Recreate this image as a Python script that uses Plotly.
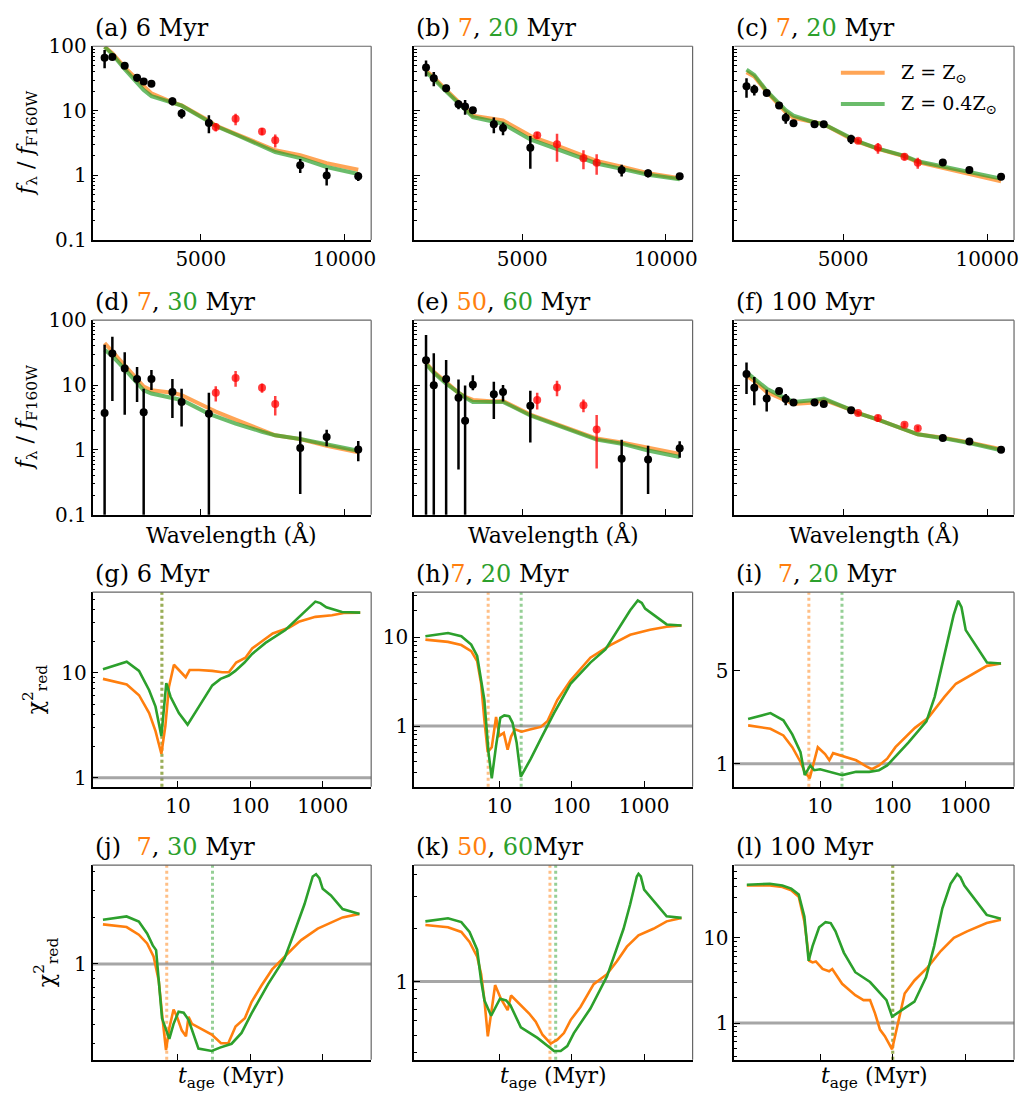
import plotly.graph_objects as go

FONT = "DejaVu Serif"
ORANGE = "#ff7f0e"
GREEN = "#2ca02c"
ORANGE_T = "rgba(255,127,14,0.7)"
GREEN_T = "rgba(44,160,44,0.7)"
RED = "rgba(255,0,0,0.75)"

# ---------------- SED data (wavelength in Angstrom) ----------------
WAVE = [1650, 1920, 2350, 2780, 3010, 3280, 4010, 4330, 5280,
        5520, 6210, 7130, 7590, 8460, 9380, 10480]
IS_RED = [False] * 9 + [True] * 4 + [False] * 3

obs_a = [66.6, 68, 50, 32.4, 28.5, 26.3, 14.1, 9.1, 6.5, 5.6, 7.5, 4.8, 3.5, 1.44, 1.0, 0.97]
err_a = [21, 7, 3, 4, 2.5, 2, 2, 1.5, 2, 0.8, 1.5, 0.6, 0.8, 0.35, 0.3, 0.15]
mod_o_a = [98, 78, 47, 31, 24, 18.6, 13.5, 12.2, 7.0, 5.9, 4.4, 3.0, 2.45, 2.05, 1.55, 1.22]
mod_g_a = [98, 75, 44, 28, 21, 16.9, 13, 12, 6.8, 5.8, 4.3, 2.85, 2.3, 1.85, 1.35, 1.05]

obs_b = [47, 32, 22.4, 12.6, 11.7, 10.2, 6.2, 5.4, 2.67, 4.2, 3.03, 1.84, 1.57, 1.21, 1.08, 0.97]
err_b = [13, 8, 3, 2, 3, 1, 1.7, 1.2, 1.4, 0.5, 1.4, 0.6, 0.55, 0.25, 0.15, 0.08]
mod_o_b = [42, 33, 21, 13.9, 11, 8.4, 7.5, 7.1, 4.1, 3.7, 2.9, 2.0, 1.68, 1.36, 1.08, 0.9]
mod_g_b = [39.5, 31, 20, 13.5, 10.5, 8.0, 6.8, 6.3, 3.6, 3.3, 2.57, 1.8, 1.53, 1.26, 1.02, 0.87]

obs_c = [24, 21.3, 18.8, 12.1, 7.8, 6.4, 6.2, 6.2, 3.66, 3.45, 2.67, 1.95, 1.57, 1.58, 1.21, 0.95]
err_c = [8, 4, 1.5, 1, 1.5, 0.6, 0.4, 0.4, 0.6, 0.3, 0.5, 0.25, 0.3, 0.1, 0.1, 0.06]
mod_o_c = [39.5, 34, 19.7, 12.3, 9.5, 7.8, 6.5, 6.2, 3.66, 3.3, 2.57, 1.97, 1.6, 1.3, 1.02, 0.81]
mod_g_c = [43.4, 36, 20.3, 12.8, 10.2, 8.4, 6.6, 6.2, 3.7, 3.35, 2.6, 2.0, 1.65, 1.36, 1.12, 0.89]

obs_d = [3.7, 30.7, 18, 12.4, 3.8, 12.4, 7.8, 5.5, 3.6, 7.6, 12.9, 9.1, 5.1, 1.07, 1.59, 1.02]
errp_d = [38, 25, 14, 6.6, 5, 4.6, 4.6, 3.3, 4, 2, 3.5, 1.5, 1.7, 0.85, 0.45, 0.35]
errm_d = [10, 25, 14.5, 6.9, 10, 4, 4.7, 3.2, 10, 2, 3.5, 1.5, 1.7, 0.86, 0.45, 0.35]
mod_o_d = [44.5, 33, 21, 12.4, 9.5, 8.3, 7.6, 7.0, 4.4, 3.9, 2.93, 2.07, 1.68, 1.47, 1.16, 0.92]
mod_g_d = [35, 28, 17.6, 10.5, 8.3, 7.4, 6.4, 5.9, 3.6, 3.3, 2.55, 1.91, 1.68, 1.47, 1.23, 0.97]

obs_e = [24.1, 9.9, 12.4, 6.4, 2.83, 10.1, 7.2, 7.8, 4.8, 5.9, 9.2, 4.9, 2.07, 0.73, 0.71, 1.06]
errp_e = [35, 21, 12, 5.8, 7, 4, 4, 2.2, 3.4, 1.7, 2.5, 1.1, 1.4, 0.7, 0.45, 0.3]
errm_e = [50, 20, 20, 5.9, 10, 1.8, 4.2, 2.2, 3.5, 1.7, 2.5, 1.1, 1.55, 2, 0.5, 0.3]
mod_o_e = [22, 16, 11.1, 7.6, 6.6, 5.9, 5.6, 5.7, 3.5, 3.2, 2.5, 1.78, 1.5, 1.3, 1.07, 0.87]
mod_g_e = [21, 15.5, 10.5, 7.4, 6.4, 5.5, 5.4, 5.5, 3.4, 3.1, 2.42, 1.7, 1.44, 1.25, 0.98, 0.78]

obs_f = [14.8, 9.1, 6.2, 8.1, 6.1, 5.4, 5.4, 5.1, 4.1, 3.7, 3.1, 2.44, 2.15, 1.53, 1.35, 1.01]
err_f = [7.5, 4.2, 2.3, 0.7, 1.2, 0.5, 0.4, 0.3, 0.5, 0.3, 0.4, 0.2, 0.2, 0.1, 0.1, 0.05]
mod_o_f = [14, 11.5, 7.8, 6.5, 5.8, 5.1, 5.4, 5.9, 4.15, 3.7, 2.93, 2.07, 1.74, 1.55, 1.31, 1.03]
mod_g_f = [15.7, 12.4, 8.8, 7.0, 6.2, 5.5, 5.9, 6.2, 4.15, 3.7, 2.93, 2.07, 1.74, 1.52, 1.28, 0.99]

# ---------------- reduced chi^2 vs age (Myr) ----------------
age_g_g = [0.92, 1.96, 2.9, 4.0, 4.9, 5.9, 6.9, 7.9, 10.3, 13.6, 19.5, 29.8, 38.8, 50.5, 62, 83, 106, 162, 305, 467, 792, 929, 1124, 1849, 3300]
chi_g_g = [10.8, 12.7, 10.4, 6.8, 4.75, 2.5, 7.95, 5.9, 4.12, 3.2, 4.75, 7.57, 8.73, 9.4, 10.4, 12.5, 15.1, 19.2, 25.5, 34, 47.5, 46, 42, 37.8, 37.3]
age_g_o = [0.92, 1.96, 2.9, 4.0, 4.9, 5.9, 6.7, 7.5, 8.8, 12.8, 14.5, 19.5, 29.8, 40.8, 50.5, 63.8, 85.7, 106, 145, 204, 340, 467, 792, 1345, 1950, 3300]
chi_g_o = [8.73, 7.73, 6.1, 4.12, 2.78, 1.69, 3.1, 7.3, 11.9, 9.05, 10.6, 10.6, 10.4, 10.1, 10.1, 12.5, 13.9, 17, 19.9, 23.6, 26.8, 30.5, 34, 35.2, 37, 37.3]

age_h_g = [0.95, 1.95, 2.98, 4.08, 4.93, 6.2, 7.07, 7.85, 9.0, 10.3, 11.7, 13.7, 15.2, 17.3, 19.8, 27.2, 38.1, 56.9, 96, 181, 292, 468, 642, 818, 929, 1032, 2048, 3290]
chi_h_g = [10.3, 11.2, 10.3, 8.3, 6.2, 1.97, 0.51, 0.258, 0.6, 1.24, 1.32, 1.29, 1.09, 0.655, 0.269, 0.43, 0.743, 1.4, 3.0, 5.2, 7.3, 13.2, 20.2, 26, 24.5, 21.1, 14.0, 13.6]
age_h_o = [0.95, 1.95, 2.98, 4.08, 4.93, 5.6, 6.2, 6.9, 7.85, 9.0, 10, 11.5, 13.0, 14.5, 16.4, 20.3, 27.2, 37.3, 46.1, 63.2, 96, 181, 341, 642, 1208, 2048, 3290]
chi_h_o = [9.43, 8.9, 8.2, 7.0, 5.4, 3.0, 1.18, 0.51, 0.577, 1.27, 0.776, 0.84, 0.543, 0.762, 0.92, 0.866, 0.92, 0.98, 1.135, 1.97, 3.27, 5.9, 8.2, 10.7, 12.2, 13.2, 13.6]

age_i_g = [1.02, 2.07, 3.12, 4.14, 5.37, 6.14, 7.33, 8.3, 10, 13.6, 20.2, 31.3, 47.4, 64.7, 83.8, 164, 291, 378, 515, 689, 797, 884, 1012, 1983, 3098]
chi_i_g = [2.17, 2.4, 2.12, 1.66, 1.22, 0.82, 0.97, 0.893, 0.908, 0.868, 0.82, 0.868, 0.868, 0.893, 0.97, 1.44, 2.08, 3.18, 6.63, 13.1, 16.8, 15.0, 10.1, 5.76, 5.66]
age_i_o = [1.02, 2.07, 3.12, 4.14, 5.37, 6.14, 7.18, 8.1, 9.3, 11.7, 13.4, 15.1, 20.7, 31.3, 42.7, 51.5, 64.7, 83.8, 109, 202, 306, 515, 740, 1064, 1983, 3098]
chi_i_o = [1.94, 1.83, 1.63, 1.33, 1.03, 0.868, 0.776, 1.0, 1.33, 1.18, 1.06, 1.2, 1.14, 1.06, 0.96, 0.908, 0.97, 1.09, 1.33, 1.86, 2.2, 3.18, 3.99, 4.47, 5.44, 5.66]

age_j_g = [0.92, 1.95, 2.88, 3.75, 4.49, 4.99, 6.03, 7.6, 8.7, 10.2, 12.0, 14.0, 19.2, 29.3, 38.1, 55.1, 75.6, 104, 176, 298, 408, 560, 729, 810, 899, 1000, 1300, 1882, 3220]
chi_j_g = [1.94, 2.04, 1.89, 1.58, 1.32, 1.23, 0.441, 0.324, 0.406, 0.487, 0.48, 0.431, 0.28, 0.27, 0.284, 0.301, 0.354, 0.475, 0.738, 1.09, 1.62, 2.45, 3.72, 3.85, 3.63, 3.09, 2.8, 2.28, 2.12]
age_j_o = [0.92, 1.95, 2.88, 3.75, 4.6, 5.43, 6.15, 6.84, 7.6, 8.7, 9.7, 11.3, 12.9, 14.0, 15.6, 21.4, 29.3, 39.4, 49.6, 62.5, 84, 104, 142, 200, 330, 505, 854, 1882, 3220]
chi_j_o = [1.81, 1.74, 1.55, 1.36, 1.12, 0.775, 0.431, 0.274, 0.381, 0.504, 0.452, 0.368, 0.337, 0.452, 0.406, 0.375, 0.345, 0.303, 0.303, 0.39, 0.441, 0.564, 0.72, 0.92, 1.17, 1.43, 1.7, 2.01, 2.12]

age_k_g = [0.95, 1.95, 2.98, 3.87, 4.93, 5.6, 6.22, 7.7, 10.2, 12.4, 14.2, 19.8, 33.6, 46.1, 56.9, 70.3, 86.7, 107, 181, 307, 520, 642, 793, 836, 900, 1000, 2048, 3290]
chi_k_g = [2.18, 2.27, 2.16, 1.9, 1.51, 1.01, 0.783, 0.642, 0.8, 0.783, 0.735, 0.553, 0.482, 0.433, 0.407, 0.407, 0.433, 0.513, 0.705, 1.07, 1.98, 2.72, 3.9, 4.03, 3.9, 3.29, 2.33, 2.28]
age_k_o = [0.95, 1.95, 2.98, 3.87, 4.93, 5.6, 6.22, 6.92, 7.7, 8.73, 10.5, 13.0, 14.5, 18.8, 25.8, 31.8, 39.4, 51.2, 63.2, 78, 96.4, 132, 201, 307, 421, 578, 836, 1343, 2048, 3290]
chi_k_o = [2.08, 2.02, 1.9, 1.67, 1.38, 1.1, 0.783, 0.492, 0.661, 0.955, 0.8, 0.69, 0.834, 0.75, 0.661, 0.594, 0.502, 0.448, 0.471, 0.513, 0.607, 0.719, 0.967, 1.1, 1.3, 1.57, 1.82, 1.98, 2.18, 2.28]

age_l_g = [0.98, 2.03, 3.02, 4.0, 5.08, 6.07, 6.95, 7.87, 9.7, 11.9, 14.0, 16.3, 21.2, 30.5, 48.7, 70.2, 82, 98, 199, 287, 372, 482, 626, 771, 855, 969, 1966, 3085]
chi_l_g = [42, 43.1, 41.2, 37.8, 32.2, 17.8, 5.38, 8.0, 13.3, 15.3, 14.9, 11.9, 6.71, 3.95, 3.03, 2.12, 1.86, 1.19, 1.78, 3.45, 8.0, 22.2, 43.1, 56.2, 51.5, 41.2, 18.6, 16.7]
age_l_o = [0.98, 2.03, 3.02, 4.0, 5.08, 6.07, 7.1, 7.87, 8.73, 10.8, 13.3, 14.7, 20.1, 30.5, 39.6, 48.7, 57, 66.7, 77.9, 98, 146, 199, 302, 458, 695, 1055, 1966, 3085]
chi_l_o = [41.2, 41.2, 39.5, 36.1, 30.3, 15.6, 5.38, 5.15, 5.28, 4.31, 4.05, 4.31, 2.89, 2.12, 1.86, 1.86, 1.3, 0.838, 0.702, 0.492, 2.22, 3.16, 4.5, 7.0, 10, 11.9, 14.9, 16.3]

best_o = [6, 7, 7, 7, 50, 100]    # best-fit ages (Z = Zsun), panels g-l
best_g = [6, 20, 20, 30, 60, 100]  # best-fit ages (Z = 0.4 Zsun), panels g-l
CHI_REF = 1.0

titles = [
    ("a", None, None, "6"), ("b", "7", "20", None), ("c", "7", "20", None),
    ("d", "7", "30", None), ("e", "50", "60", None), ("f", None, None, "100"),
    ("g", None, None, "6"), ("h", "7", "20", None), ("i", "7", "20", None),
    ("j", "7", "30", None), ("k", "50", "60", None), ("l", None, None, "100"),
]

sed_panels = [
    (obs_a, err_a, err_a, mod_o_a, mod_g_a),
    (obs_b, err_b, err_b, mod_o_b, mod_g_b),
    (obs_c, err_c, err_c, mod_o_c, mod_g_c),
    (obs_d, errp_d, errm_d, mod_o_d, mod_g_d),
    (obs_e, errp_e, errm_e, mod_o_e, mod_g_e),
    (obs_f, err_f, err_f, mod_o_f, mod_g_f),
]
chi_panels = [
    (age_g_o, chi_g_o, age_g_g, chi_g_g),
    (age_h_o, chi_h_o, age_h_g, chi_h_g),
    (age_i_o, chi_i_o, age_i_g, chi_i_g),
    (age_j_o, chi_j_o, age_j_g, chi_j_g),
    (age_k_o, chi_k_o, age_k_g, chi_k_g),
    (age_l_o, chi_l_o, age_l_g, chi_l_g),
]
chi_yrange = [(-0.087, 1.767), (-0.684, 1.51), (-0.174, 1.29),
              (-0.626, 0.645), (-0.44, 0.655), (-0.431, 1.854)]
chi_ticks = [[1, 10], [1, 10], [1, 5], [1], [1], [1, 10]]
_m1 = [2, 3, 4, 5, 6, 7, 8, 9]
_m0 = [0.3, 0.4, 0.5, 0.6, 0.7, 0.8, 0.9]
chi_minor = [
    _m1 + [20, 30, 40, 50],
    _m0 + _m1 + [20, 30],
    [],
    _m0 + [2, 3, 4],
    _m0[1:] + [2, 3, 4],
    _m0[1:] + _m1 + [20, 30, 40, 50, 60, 70],
]

# ---------------- layout geometry ----------------
W, H = 1026, 1106
COL_X = [(93, 373), (416, 696), (738, 1019)]
ROW_Y = [(35, 233), (315, 514), (593, 792), (872, 1071)]


def names(n):
    return ("x" if n == 1 else f"x{n}", "y" if n == 1 else f"y{n}")


fig = go.Figure()
layout = dict(
    width=W, height=H, autosize=False,
    margin=dict(l=0, r=0, t=0, b=0),
    paper_bgcolor="white", plot_bgcolor="white",
    showlegend=False,
    font=dict(family=FONT, color="black"),
)
shapes = []
annotations = []

tickfont = dict(family=FONT, size=20, color="black")


def base_axis():
    return dict(showline=True, linecolor="black", linewidth=1.6,
                ticks="inside", ticklen=6, tickwidth=1.3, tickcolor="black",
                showgrid=False, zeroline=False, tickfont=tickfont)


for idx in range(12):
    r, c = divmod(idx, 3)
    n = idx + 1
    xn, yn = names(n)
    xk = "xaxis" if n == 1 else f"xaxis{n}"
    yk = "yaxis" if n == 1 else f"yaxis{n}"
    px0, px1 = COL_X[c]
    py0, py1 = ROW_Y[r]
    xa = base_axis()
    ya = base_axis()
    xa.update(domain=[px0 / W, px1 / W], anchor=yn)
    ya.update(domain=[1 - py1 / H, 1 - py0 / H], anchor=xn)

    if idx < 6:
        obs, ep, em, mo, mg = sed_panels[idx]
        fig.add_trace(go.Scatter(x=WAVE, y=mo, mode="lines", xaxis=xn, yaxis=yn,
                                 line=dict(color=ORANGE_T, width=4)))
        fig.add_trace(go.Scatter(x=WAVE, y=mg, mode="lines", xaxis=xn, yaxis=yn,
                                 line=dict(color=GREEN_T, width=4)))
        for red in (False, True):
            sel = [i for i in range(len(WAVE)) if IS_RED[i] == red]
            col = RED if red else "black"
            fig.add_trace(go.Scatter(
                x=[WAVE[i] for i in sel], y=[obs[i] for i in sel],
                mode="markers", xaxis=xn, yaxis=yn,
                marker=dict(color=col, size=8),
                error_y=dict(type="data", symmetric=False,
                             array=[ep[i] for i in sel],
                             arrayminus=[em[i] for i in sel],
                             color=col, thickness=2.5, width=0)))
        xa.update(range=[1230, 10930], tickvals=[5000, 10000],
                  ticktext=["5000", "10000"], showticklabels=(r == 0))
        ya.update(type="log", range=[-1, 2], tickvals=[0.1, 1, 10, 100],
                  ticktext=["0.1", "1", "10", "100"], showticklabels=(c == 0),
                  minor=dict(ticks="inside", ticklen=3, tickwidth=1, tickcolor="black",
                             tickvals=[k * 10 ** e for e in (-1, 0, 1) for k in range(2, 10)]))
    else:
        j = idx - 6
        ao, co, ag, cg = chi_panels[j]
        # chi2 = 1 reference line (drawn first, beneath curves)
        fig.add_trace(go.Scatter(x=[ao[0] * 0.1, ao[-1] * 10], y=[CHI_REF, CHI_REF],
                                 mode="lines", xaxis=xn, yaxis=yn,
                                 line=dict(color="rgba(128,128,128,0.7)", width=3)))
        fig.add_trace(go.Scatter(x=ao, y=co, mode="lines", xaxis=xn, yaxis=yn,
                                 line=dict(color=ORANGE, width=2.6)))
        fig.add_trace(go.Scatter(x=ag, y=cg, mode="lines", xaxis=xn, yaxis=yn,
                                 line=dict(color=GREEN, width=2.6)))
        xa.update(type="log", range=[-0.18, 3.67], tickvals=[10, 100, 1000],
                  ticktext=["10", "100", "1000"], showticklabels=(r == 2))
        tv = chi_ticks[j]
        ya.update(type="log", range=list(chi_yrange[j]), tickvals=tv,
                  ticktext=[str(v) for v in tv])
        if chi_minor[j]:
            ya["minor"] = dict(ticks="inside", ticklen=3, tickwidth=1,
                               tickcolor="black", tickvals=chi_minor[j])
        # best-fit ages
        for age, colr in ((best_o[j], "rgba(255,127,14,0.5)"),
                          (best_g[j], "rgba(44,160,44,0.5)")):
            shapes.append(dict(type="line", xref=xn, yref=f"{yn} domain",
                               x0=age, x1=age, y0=0, y1=1,
                               line=dict(color=colr, width=3, dash="dot"),
                               layer="below"))

    layout[xk] = xa
    layout[yk] = ya

    # top & right frame lines
    shapes.append(dict(type="line", xref=f"{xn} domain", yref=f"{yn} domain",
                       x0=0, x1=1, y0=1, y1=1, line=dict(color="#666", width=1.2)))
    shapes.append(dict(type="line", xref=f"{xn} domain", yref=f"{yn} domain",
                       x0=1, x1=1, y0=0, y1=1, line=dict(color="#666", width=1.2)))

    # panel title
    letter, o_age, g_age, single = titles[idx]
    if single is not None:
        txt = f"({letter}) {single} Myr"
    else:
        sep = "  " if letter in ("i", "j") else " "
        tail = "Myr" if letter == "k" else " Myr"
        if letter == "h":
            sep = ""
        txt = (f"({letter}){sep}<span style='color:{ORANGE}'>{o_age}</span>, "
               f"<span style='color:{GREEN}'>{g_age}</span>{tail}")
    annotations.append(dict(text=txt, xref="paper", yref="paper",
                            x=px0 / W, y=1 - (py0 - 2) / H,
                            xanchor="left", yanchor="bottom", showarrow=False,
                            font=dict(family=FONT, size=24, color="black")))

# axis titles
for r in (0, 1):
    cy = (ROW_Y[r][0] + ROW_Y[r][1]) / 2
    annotations.append(dict(text="<i>f</i><sub>λ</sub> / <i>f</i><sub>F160W</sub>",
                            xref="paper", yref="paper", x=27 / W, y=1 - cy / H,
                            xanchor="center", yanchor="middle", textangle=-90,
                            showarrow=False, font=dict(family=FONT, size=22)))
for r, cxp in ((2, 36), (3, 47)):
    cy = (ROW_Y[r][0] + ROW_Y[r][1]) / 2
    annotations.append(dict(text="χ<sup>2</sup><sub>red</sub>",
                            xref="paper", yref="paper", x=cxp / W, y=1 - cy / H,
                            xanchor="center", yanchor="middle", textangle=-90,
                            showarrow=False, font=dict(family=FONT, size=22)))
for c in range(3):
    cx = (COL_X[c][0] + COL_X[c][1]) / 2
    annotations.append(dict(text="Wavelength (Å)", xref="paper", yref="paper",
                            x=cx / W, y=1 - 534 / H, xanchor="center", yanchor="middle",
                            showarrow=False, font=dict(family=FONT, size=22)))
    annotations.append(dict(text="<i>t</i><sub>age</sub> (Myr)", xref="paper", yref="paper",
                            x=cx / W, y=1 - 1072 / H, xanchor="center", yanchor="top",
                            showarrow=False, font=dict(family=FONT, size=22)))

# legend (panel c)
for yy, colr, lab in ((62, ORANGE_T, "Z = Z<sub>⊙</sub>"),
                      (94, GREEN_T, "Z = 0.4Z<sub>⊙</sub>")):
    shapes.append(dict(type="line", xref="paper", yref="paper",
                       x0=845 / W, x1=889 / W, y0=1 - yy / H, y1=1 - yy / H,
                       line=dict(color=colr, width=4)))
    annotations.append(dict(text=lab, xref="paper", yref="paper",
                            x=903 / W, y=1 - (yy + 1) / H, xanchor="left", yanchor="middle",
                            showarrow=False, font=dict(family=FONT, size=19)))

layout["shapes"] = shapes
layout["annotations"] = annotations
fig.update_layout(**layout)
fig.write_html("out.html")
